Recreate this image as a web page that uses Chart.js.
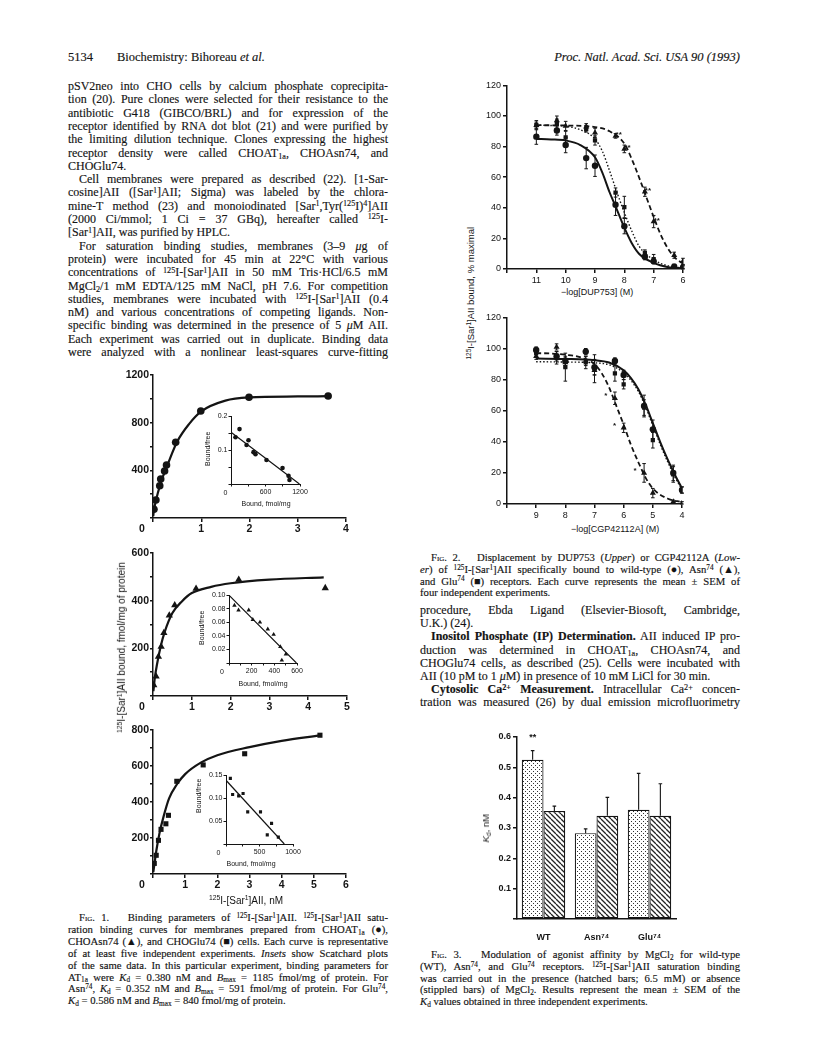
<!DOCTYPE html>
<html>
<head>
<meta charset="utf-8">
<title>Biochemistry: Bihoreau et al. 5134</title>
<script src="https://cdn.jsdelivr.net/npm/chart.js@4.4.1/dist/chart.umd.min.js"></script>
<style>
  html, body { margin: 0; padding: 0; background: #fff; }
  body { position: relative; width: 816px; height: 1055px; overflow: hidden; color: #141414;
         font-family: "Liberation Serif", "Times New Roman", serif; }
  .ln { position: absolute; white-space: nowrap; -webkit-text-stroke: 0.15px #141414; }
  .body { font-size: 12px; line-height: 14px; }
  .cap { font-size: 10.7px; line-height: 12px; }
  .head { position: absolute; font-size: 12.5px; line-height: 14px; white-space: nowrap; -webkit-text-stroke: 0.15px #141414; }
  sup, sub { font-size: 68%; line-height: 0; position: relative; vertical-align: baseline; }
  sup { top: -0.45em; }
  sub { top: 0.25em; }
  .sc { font-variant: small-caps; }
  canvas { position: absolute; }
  .lab { position: absolute; font-family: "Liberation Sans", Arial, sans-serif; white-space: nowrap; line-height: 1.1; }
</style>
</head>
<body>
<script>
// ---------- Fig. 1: saturation binding ----------
const at1aX = [0.02, 0.06, 0.14, 0.16, 0.24, 0.28, 0.47, 0.99, 1.99, 3.63];
const at1aY = [73, 151, 271, 327, 394, 445, 635, 898, 1013, 1024];
const at1aFitX = [0.005, 0.02, 0.05, 0.1, 0.2, 0.3, 0.5, 0.75, 1, 1.5, 2, 3, 3.63];
const at1aFitY = [15, 70, 125, 210, 340, 445, 640, 790, 895, 985, 1012, 1020, 1022];

const asnX = [0.02, 0.08, 0.14, 0.21, 0.28, 0.42, 0.56, 1.11, 2.21, 4.44];
const asnY = [46, 82, 165, 207, 265, 338, 381, 450, 488, 453];
const asnFitX = [0.01, 0.05, 0.1, 0.2, 0.3, 0.5, 0.75, 1, 1.5, 2, 3, 4.4];
const asnFitY = [20, 80, 130, 210, 268, 348, 398, 432, 458, 473, 488, 498];

const gluX = [0.04, 0.10, 0.17, 0.25, 0.40, 0.48, 0.74, 1.56, 2.85, 5.19];
const gluY = [59, 104, 187, 248, 279, 326, 515, 606, 668, 771];
const gluFitX = [0.01, 0.1, 0.2, 0.33, 0.5, 0.75, 1, 1.5, 2, 3, 4, 5.2];
const gluFitY = [10, 125, 225, 320, 420, 500, 555, 620, 660, 705, 740, 770];

// Scatchard insets (bound fmol/mg vs bound/free)
const at1aSbX = [78, 148, 304, 270, 391, 426, 617, 896, 1000, 1017];
const at1aSbY = [0.138, 0.162, 0.129, 0.115, 0.094, 0.088, 0.071, 0.047, 0.024, 0.012];
const at1aSbLineX = [0, 1190];
const at1aSbLineY = [0.153, 0];

const asnSbX = [48, 84, 174, 210, 273, 342, 394, 453, 466, 502];
const asnSbY = [0.085, 0.078, 0.078, 0.064, 0.060, 0.050, 0.042, 0.024, 0.004, 0.013];
const asnSbLineX = [0, 595];
const asnSbLineY = [0.10, 0];

const gluSbX = [65, 99, 189, 255, 324, 515, 680, 616, 781];
const gluSbY = [0.143, 0.108, 0.105, 0.110, 0.070, 0.070, 0.045, 0.020, 0.015];
const gluSbLineX = [0, 870];
const gluSbLineY = [0.139, 0];

// ---------- Fig. 2: displacement ----------
const upX = [11, 10.3, 10, 9.3, 9, 8.3, 8, 7.3, 7, 6.3, 6];
const upWt = [86.5, 90.5, 81, 72.5, 67.5, 42, 28, 8, 5, 1.5, 1];
const upWtErr = [5, 3, 5, 7, 7, 7, 5, 2, 1.5, 1, 1];
const upAsn = [94, 97, 93.5, 93, 89, 87, 78.5, 50.5, 31, 9, 5];
const upAsnErr = [2, 3, 3, 2, 3, 1.5, 2.5, 3, 4, 2, 2];
const upGlu = [94, 95, 86, 91.5, 84, 50, 40.5, 10.5, 6.5, 2, 1.5];
const upGluErr = [3, 3, 4, 2, 3, 3, 7, 2, 3, 1, 1];
const upAsnStars = ['', '', '', '', '', '**', '**', '**', '**', '', ''];
const upWtFitX = [11, 10.5, 10, 9.5, 9, 8.75, 8.5, 8.3, 8, 7.75, 7.5, 7, 6.5, 6];
const upWtFitY = [85, 84.7, 84, 81, 73, 63, 50, 41, 27, 17, 10, 4, 1.2, 0.4];
const upGluFitX = [11, 10.5, 10, 9.5, 9, 8.75, 8.5, 8.25, 8, 7.75, 7.5, 7, 6.5, 6];
const upGluFitY = [94, 93.8, 93.3, 91, 85, 77, 64, 50, 37, 25, 15, 6, 2, 0.6];
const upAsnFitX = [11, 10, 9, 8.5, 8, 7.75, 7.5, 7.25, 7, 6.75, 6.5, 6.25, 6];
const upAsnFitY = [94, 93.8, 92.8, 90, 82, 72, 60, 47, 34, 22, 13, 7, 3.5];

const loX = [9, 8.3, 8, 7.3, 7, 6.3, 6, 5.3, 5, 4.3, 4];
const loWt = [99, 95, 92, 98, 88, 92, 83, 63, 48, 20, 9];
const loWtErr = [2, 3, 3, 2, 5, 2, 3, 7, 6, 5, 2];
const loGlu = [97, 94, 88, 91, 87, 84, 77, 62, 41, 19, 9];
const loGluErr = [2, 4, 9, 4, 9, 5, 3, 5, 5, 5, 2];
const loAsn = [95, 101, 91, 92, 86, 68, 49, 20, 7, 1.5, 0.5];
const loAsnErr = [2, 2, 3, 3, 3, 4, 3, 6, 3, 1, 1];
const loAsnStars = ['', '', '', '', '', '*', '*', '*', '', '', ''];
const loFitX = [9, 8, 7, 6.5, 6, 5.75, 5.5, 5.25, 5, 4.75, 4.5, 4.25, 4];
const loWtFitY = [93.5, 93.3, 92.5, 91, 86, 81, 74, 64, 52, 40, 29, 19, 10];
const loGluFitY = [91.5, 91.3, 90.8, 89.5, 84.5, 79.5, 72.5, 62.5, 50.5, 38.5, 27.5, 17.5, 9.5];
const loAsnFitX = [9, 8.5, 8, 7.5, 7, 6.75, 6.5, 6.25, 6, 5.75, 5.5, 5.25, 5, 4.5, 4];
const loAsnFitY = [97, 96.8, 96, 94.5, 90, 84, 75, 63, 51, 38, 27, 17, 10, 3.5, 1.2];

// ---------- Fig. 3: Kd with / without MgCl2 ----------
const kdGroups = ['WT', 'Asn\u2077\u2074', 'Glu\u2077\u2074'];
const kdNoMg = [0.525, 0.283, 0.36];
const kdNoMgErr = [0.03, 0.014, 0.12];
const kdMg = [0.356, 0.34, 0.34];
const kdMgErr = [0.016, 0.061, 0.106];
const kdStars = ['**', '', ''];

// ---------- page text ----------
const T125 = '<sup>125</sup>I-[Sar<sup>1</sup>]AII';
const FIG = n => 'F<span class="sc">ig</span>. ' + n + '.&nbsp;&nbsp; ';

const leftText = [
  'pSV2neo into CHO cells by calcium phosphate coprecipita-',
  'tion (20). Pure clones were selected for their resistance to the',
  'antibiotic G418 (GIBCO/BRL) and for expression of the',
  'receptor identified by RNA dot blot (21) and were purified by',
  'the limiting dilution technique. Clones expressing the highest',
  'receptor density were called CHOAT<sub>1a</sub>, CHOAsn74, and',
  'CHOGlu74.|',
  '>Cell membranes were prepared as described (22). [1-Sar-',
  'cosine]AII ([Sar<sup>1</sup>]AII; Sigma) was labeled by the chlora-',
  'mine-T method (23) and monoiodinated [Sar<sup>1</sup>,Tyr(<sup>125</sup>I)<sup>4</sup>]AII',
  '(2000 Ci/mmol; 1 Ci = 37 GBq), hereafter called <sup>125</sup>I-',
  '[Sar<sup>1</sup>]AII, was purified by HPLC.|',
  '>For saturation binding studies, membranes (3\u20139 <i>\u03bc</i>g of',
  'protein) were incubated for 45 min at 22\u00b0C with various',
  'concentrations of ' + T125 + ' in 50 mM Tris\u00b7HCl/6.5 mM',
  'MgCl<sub>2</sub>/1 mM EDTA/125 mM NaCl, pH 7.6. For competition',
  'studies, membranes were incubated with ' + T125 + ' (0.4',
  'nM) and various concentrations of competing ligands. Non-',
  'specific binding was determined in the presence of 5 <i>\u03bc</i>M AII.',
  'Each experiment was carried out in duplicate. Binding data',
  'were analyzed with a nonlinear least-squares curve-fitting'
];
const fig1Caption = [
  '>' + FIG(1) + 'Binding parameters of ' + T125 + '. ' + T125 + ' satu-',
  'ration binding curves for membranes prepared from CHOAT<sub>1a</sub> (\u25cf),',
  'CHOAsn74 (\u25b2), and CHOGlu74 (\u25a0) cells. Each curve is representative',
  'of at least five independent experiments. <i>Insets</i> show Scatchard plots',
  'of the same data. In this particular experiment, binding parameters for',
  'AT<sub>1a</sub> were <i>K</i><sub>d</sub> = 0.380 nM and <i>B</i><sub>max</sub> = 1185 fmol/mg of protein. For',
  'Asn<sup>74</sup>, <i>K</i><sub>d</sub> = 0.352 nM and <i>B</i><sub>max</sub> = 591 fmol/mg of protein. For Glu<sup>74</sup>,',
  '<i>K</i><sub>d</sub> = 0.586 nM and <i>B</i><sub>max</sub> = 840 fmol/mg of protein.|'
];
const fig2Caption = [
  '>' + FIG(2) + 'Displacement by DUP753 (<i>Upper</i>) or CGP42112A (<i>Low-</i>',
  '<i>er</i>) of ' + T125 + ' specifically bound to wild-type (\u25cf), Asn<sup>74</sup> (\u25b2),',
  'and Glu<sup>74</sup> (\u25a0) receptors. Each curve represents the mean \u00b1 SEM of',
  'four independent experiments.|'
];
const rightText = [
  'procedure, Ebda Ligand (Elsevier-Biosoft, Cambridge,',
  'U.K.) (24).|',
  '><b>Inositol Phosphate (IP) Determination.</b> AII induced IP pro-',
  'duction was determined in CHOAT<sub>1a</sub>, CHOAsn74, and',
  'CHOGlu74 cells, as described (25). Cells were incubated with',
  'AII (10 pM to 1 <i>\u03bc</i>M) in presence of 10 mM LiCl for 30 min.|',
  '><b>Cytosolic Ca<sup>2+</sup> Measurement.</b> Intracellular Ca<sup>2+</sup> concen-',
  'tration was measured (26) by dual emission microfluorimetry'
];
const fig3Caption = [
  '>' + FIG(3) + 'Modulation of agonist affinity by MgCl<sub>2</sub> for wild-type',
  '(WT), Asn<sup>74</sup>, and Glu<sup>74</sup> receptors. ' + T125 + ' saturation binding',
  'was carried out in the presence (hatched bars; 6.5 mM) or absence',
  '(stippled bars) of MgCl<sub>2</sub>. Results represent the mean \u00b1 SEM of the',
  '<i>K</i><sub>d</sub> values obtained in three independent experiments.|'
];

// ---------- text layout ----------
function justify(div, w, last) {
  const sp = div.firstChild;
  const nat = sp.getBoundingClientRect().width;
  const gaps = (sp.textContent.match(/[ \u00a0]/g) || []).length;
  if (!gaps || (last && nat <= w)) return;
  sp.style.wordSpacing = ((w - nat) / gaps) + 'px';
}

function textBlock(x, y0, dy, w, cls, lines) {
  const half = cls === 'body' ? 7 : 6;
  lines.forEach((raw, i) => {
    let t = raw, ind = 0, last = false;
    if (t.startsWith('>')) { t = t.slice(1); ind = 11; }
    if (t.endsWith('|')) { t = t.slice(0, -1); last = true; }
    const d = document.createElement('div');
    d.className = 'ln ' + cls;
    d.style.left = (x + ind) + 'px';
    d.style.top = (y0 + i * dy - half) + 'px';
    d.innerHTML = '<span>' + t + '</span>';
    document.body.appendChild(d);
    justify(d, w - ind, last);
  });
}

function head(html, left, right, top) {
  const d = document.createElement('div');
  d.className = 'head';
  d.innerHTML = html;
  if (left != null) d.style.left = left + 'px';
  if (right != null) d.style.right = right + 'px';
  d.style.top = top + 'px';
  document.body.appendChild(d);
}

function label(html, cx, cy, size, rot, weight) {
  const d = document.createElement('div');
  d.className = 'lab';
  d.innerHTML = html;
  d.style.fontSize = size + 'px';
  if (weight) d.style.fontWeight = weight;
  document.body.appendChild(d);
  const w = d.offsetWidth, h = d.offsetHeight;
  d.style.left = (cx - w / 2) + 'px';
  d.style.top = (cy - h / 2) + 'px';
  if (rot) d.style.transform = 'rotate(-90deg)';
}

head('5134', 68, null, 50);
head('Biochemistry: Bihoreau <i>et al.</i>', 117, null, 50);
head('<i>Proc. Natl. Acad. Sci. USA 90 (1993)</i>', null, 76, 50);

textBlock(68, 86, 13.3, 320, 'body', leftText);
textBlock(68, 917, 11.9, 320, 'cap', fig1Caption);
textBlock(420, 557, 11.8, 320, 'cap', fig2Caption);
textBlock(420, 610, 13.2, 320, 'body', rightText);
textBlock(420, 954, 11.8, 320, 'cap', fig3Caption);

// ---------- chart helpers ----------
const SANS = '"Liberation Sans", Arial, Helvetica, sans-serif';
const INK = '#141414';
const near = (v, s) => Math.abs(v / s - Math.round(v / s)) < 1e-6;
const pts = (xs, ys) => xs.map((x, i) => ({ x, y: ys[i] }));

function marks(xs, ys, style, r, extra) {
  return Object.assign({
    data: pts(xs, ys), showLine: false, pointStyle: style, pointRadius: r,
    pointBackgroundColor: INK, pointBorderColor: INK, pointBorderWidth: 0
  }, extra || {});
}
function curve(xs, ys, w, dash) {
  return {
    data: pts(xs, ys), showLine: true, pointRadius: 0, borderColor: INK, borderWidth: w,
    borderDash: dash || [], cubicInterpolationMode: 'monotone', fill: false
  };
}

function linear(o) {
  return {
    type: 'linear', min: o.min, max: o.max, reverse: !!o.reverse,
    ticks: {
      stepSize: o.step, autoSkip: false, maxRotation: 0, color: INK, padding: o.pad,
      font: { family: SANS, size: o.size, weight: o.weight || 'normal' },
      callback: o.fmt
    },
    grid: { display: true, drawOnChartArea: false, drawTicks: true, tickLength: o.tick, lineWidth: o.lw, color: INK },
    border: { display: true, color: INK, width: o.lw },
    afterFit: s => { if (s.isHorizontal()) s.height = o.room; else s.width = o.room; }
  };
}

function canvasFor(box, yRoom, xRoom, padT, padR) {
  const c = document.createElement('canvas');
  const w = Math.round(box.R - box.L) + yRoom + padR;
  const h = Math.round(box.B - box.T) + padT + xRoom;
  c.width = w; c.height = h;
  c.style.width = w + 'px'; c.style.height = h + 'px';
  c.style.left = Math.round(box.L - yRoom) + 'px';
  c.style.top = Math.round(box.T - padT) + 'px';
  document.body.appendChild(c);
  return c;
}

const errorBars = {
  id: 'errorBars',
  beforeDatasetDraw(chart, args) {
    const ds = chart.data.datasets[args.index];
    if (!ds.errors) return;
    const ctx = chart.ctx, ys = chart.scales.y;
    ctx.save();
    ctx.strokeStyle = INK;
    ctx.lineWidth = ds.errWidth || 1;
    args.meta.data.forEach((el, i) => {
      const e = ds.errors[i];
      if (!e) return;
      const raw = ds.data[i];
      const v = typeof raw === 'object' ? raw.y : raw;
      const yTop = ys.getPixelForValue(v + e);
      const yBot = ds.errUpOnly ? el.y : ys.getPixelForValue(Math.max(v - e, ys.min));
      const cap = ds.errCap || 1.8;
      ctx.beginPath();
      ctx.moveTo(el.x, yBot); ctx.lineTo(el.x, yTop);
      ctx.moveTo(el.x - cap, yTop); ctx.lineTo(el.x + cap, yTop);
      if (!ds.errUpOnly) { ctx.moveTo(el.x - cap, yBot); ctx.lineTo(el.x + cap, yBot); }
      ctx.stroke();
    });
    ctx.restore();
  }
};

const cornerZero = {
  id: 'cornerZero',
  afterDraw(chart, args, o) {
    const a = chart.chartArea, ctx = chart.ctx;
    ctx.save();
    ctx.fillStyle = INK;
    ctx.font = (o.weight || 'normal') + ' ' + o.size + 'px ' + SANS;
    ctx.textAlign = 'center';
    ctx.textBaseline = 'middle';
    ctx.fillText('0', a.left + o.dx, a.bottom + o.dy);
    ctx.restore();
  }
};

const starMarks = {
  id: 'stars',
  afterDatasetsDraw(chart, args, o) {
    const ctx = chart.ctx;
    chart.data.datasets.forEach((ds, di) => {
      if (!ds.stars) return;
      const meta = chart.getDatasetMeta(di);
      ctx.save();
      ctx.fillStyle = INK;
      ctx.font = 'bold ' + o.size + 'px ' + SANS;
      ctx.textAlign = o.align || 'center';
      ctx.textBaseline = 'middle';
      meta.data.forEach((el, i) => { const s = ds.stars[i]; if (s) ctx.fillText(s, el.x + o.dx, el.y + o.dy); });
      ctx.restore();
    });
  }
};

function scatter(box, cfg) {
  const c = canvasFor(box, cfg.yRoom, cfg.xRoom, cfg.padT, cfg.padR);
  return new Chart(c, {
    type: 'scatter',
    data: { datasets: cfg.datasets },
    options: {
      responsive: false, animation: false, events: [],
      layout: { padding: { top: cfg.padT, right: cfg.padR, left: 0, bottom: 0 } },
      plugins: {
        legend: { display: false }, tooltip: { enabled: false },
        cornerZero: cfg.zero || false, stars: cfg.stars || false
      },
      scales: { x: cfg.x, y: cfg.y }
    },
    plugins: [errorBars, cornerZero, starMarks]
  });
}

// ---------- Fig. 1 main panels ----------
function mainPanel(box, xmax, ymax, ystep, ylab, zdy, datasets) {
  scatter(box, {
    yRoom: 28, xRoom: 20, padT: 8, padR: 10,
    x: linear({ min: 0, max: xmax, step: 1, size: 10.5, weight: 'bold', pad: 1, tick: 4, lw: 1.5, room: 20,
      fmt: v => v === 0 ? '' : String(v) }),
    y: linear({ min: 0, max: ymax, step: ystep, size: 10.5, weight: 'bold', pad: 1, tick: 3, lw: 1.5, room: 28,
      fmt: v => v === 0 ? '' : (near(v, ylab) ? String(v) : '') }),
    zero: { dx: -11, dy: zdy, size: 10.5, weight: 'bold' },
    datasets
  });
}
mainPanel({ L: 153, R: 346, T: 374.5, B: 517 }, 4, 1200, 200, 400, 11,
  [curve(at1aFitX, at1aFitY, 2.2), marks(at1aX, at1aY, 'circle', 3.8)]);
mainPanel({ L: 153, R: 347, T: 553, B: 696 }, 5, 600, 100, 200, 11,
  [curve(asnFitX, asnFitY, 2.2), marks(asnX, asnY, 'triangle', 4.2)]);
mainPanel({ L: 153, R: 346, T: 730, B: 873.5 }, 6, 800, 100, 200, 11,
  [curve(gluFitX, gluFitY, 2.2), marks(gluX, gluY, 'rect', 3.6)]);

// ---------- Fig. 1 insets ----------
function inset(box, xmax, xstep, xlab, ymax, ystep, ylab, ydig, zdx, datasets) {
  scatter(box, {
    yRoom: 19, xRoom: 12, padT: 5, padR: 9,
    x: linear({ min: 0, max: xmax, step: xstep, size: 7, pad: 1, tick: 2.5, lw: 1, room: 12,
      fmt: v => v === 0 ? '' : (near(v, xlab) ? String(Math.round(v)) : '') }),
    y: linear({ min: 0, max: ymax, step: ystep, size: 7, pad: 1, tick: 2.5, lw: 1, room: 19,
      fmt: v => v < 1e-9 ? '' : (near(v, ylab) ? v.toFixed(ydig) : '') }),
    zero: { dx: zdx, dy: 9, size: 7 },
    datasets
  });
}
inset({ L: 230.5, R: 299, T: 416, B: 484 }, 1200, 300, 600, 0.2, 0.05, 0.1, 1, -5.5,
  [curve(at1aSbLineX, at1aSbLineY, 1.2), marks(at1aSbX, at1aSbY, 'circle', 2.3)]);
inset({ L: 229, R: 296.5, T: 595, B: 663 }, 600, 100, 200, 0.10, 0.02, 0.02, 2, -7,
  [curve(asnSbLineX, asnSbLineY, 1.2), marks(asnSbX, asnSbY, 'triangle', 2.6)]);
inset({ L: 225.7, R: 292.3, T: 775, B: 844 }, 1000, 250, 500, 0.15, 0.05, 0.05, 2, -7.5,
  [curve(gluSbLineX, gluSbLineY, 1.2), marks(gluSbX, gluSbY, 'rect', 2.2)]);

label('Bound/free', 208, 449, 7, true);
label('Bound, fmol/mg', 266, 504, 7);
label('Bound/free', 202, 628, 7, true);
label('Bound, fmol/mg', 263, 684, 7);
label('Bound/free', 199, 796, 7, true);
label('Bound, fmol/mg', 251, 864, 7);

label('<sup>125</sup>I-[Sar<sup>1</sup>]AII bound, fmol/mg of protein', 121, 647, 10, true);
label('<sup>125</sup>I-[Sar<sup>1</sup>]AII, nM', 246, 900, 10);

// ---------- Fig. 2 ----------
function dispPanel(box, xmin, xmax, stars, datasets) {
  return scatter(box, {
    yRoom: 26, xRoom: 16, padT: 7, padR: 10,
    x: linear({ min: xmin, max: xmax, reverse: true, step: 1, size: 9, pad: 2, tick: 4, lw: 1.5, room: 16,
      fmt: v => v === xmax ? '' : String(v) }),
    y: linear({ min: 0, max: 120, step: 20, size: 9, pad: 2, tick: 4, lw: 1.5, room: 26,
      fmt: v => String(v) }),
    stars,
    datasets
  });
}
const eb = (errors, extra) => Object.assign({ errors, errWidth: 1, errCap: 1.8 }, extra || {});

dispPanel({ L: 507.4, R: 683, T: 85, B: 269 }, 6, 12, { dx: 0, dy: -1, size: 8, align: 'left' }, [
  curve(upWtFitX, upWtFitY, 2),
  curve(upGluFitX, upGluFitY, 1.4, [1.5, 2]),
  curve(upAsnFitX, upAsnFitY, 1.8, [5, 3]),
  marks(upX, upGlu, 'rect', 3, eb(upGluErr)),
  marks(upX, upAsn, 'triangle', 3.5, eb(upAsnErr, { stars: upAsnStars })),
  marks(upX, upWt, 'circle', 3.2, eb(upWtErr))
]);
dispPanel({ L: 506.5, R: 681.7, T: 317, B: 504 }, 4, 10, { dx: -9, dy: -2, size: 8, align: 'center' }, [
  curve(loFitX, loWtFitY, 2),
  curve(loFitX, loGluFitY, 1.4, [1.5, 2]),
  curve(loAsnFitX, loAsnFitY, 1.8, [5, 3]),
  marks(loX, loGlu, 'rect', 3, eb(loGluErr)),
  marks(loX, loAsn, 'triangle', 3.5, eb(loAsnErr, { stars: loAsnStars })),
  marks(loX, loWt, 'circle', 3.2, eb(loWtErr))
]);

label('<sup>125</sup>I-[Sar<sup>1</sup>]AII bound, % maximal', 471, 293, 9.5, true);
label('\u2212log[DUP753] (M)', 597, 293, 9);
label('\u2212log[CGP42112A] (M)', 615, 530, 9);

// ---------- Fig. 3 ----------
function stipple() {
  const c = document.createElement('canvas');
  c.width = 4; c.height = 4;
  const g = c.getContext('2d');
  g.fillStyle = '#fff'; g.fillRect(0, 0, 4, 4);
  g.fillStyle = '#333';
  g.fillRect(0, 0, 1, 1); g.fillRect(2, 2, 1, 1);
  return g.createPattern(c, 'repeat');
}
function hatch() {
  const s = 5;
  const c = document.createElement('canvas');
  c.width = s; c.height = s;
  const g = c.getContext('2d');
  g.fillStyle = '#fff'; g.fillRect(0, 0, s, s);
  g.strokeStyle = '#222'; g.lineWidth = 1.3;
  g.beginPath();
  for (const k of [-s, 0, s]) { g.moveTo(k, 0); g.lineTo(k + s, s); }
  g.stroke();
  return g.createPattern(c, 'repeat');
}

(function () {
  const box = { L: 517, R: 676, T: 737, B: 919 };
  const c = canvasFor(box, 26, 26, 8, 6);
  const barStyle = { borderColor: INK, borderWidth: 1.2, borderSkipped: false, categoryPercentage: 0.82, barPercentage: 1,
    errUpOnly: true, errWidth: 1.1, errCap: 1.8 };
  new Chart(c, {
    type: 'bar',
    data: {
      labels: kdGroups,
      datasets: [
        Object.assign({ label: 'no MgCl2', data: kdNoMg, errors: kdNoMgErr, stars: kdStars, backgroundColor: stipple() }, barStyle),
        Object.assign({ label: '6.5 mM MgCl2', data: kdMg, errors: kdMgErr, backgroundColor: hatch() }, barStyle)
      ]
    },
    options: {
      responsive: false, animation: false, events: [],
      layout: { padding: { top: 8, right: 6, left: 0, bottom: 0 } },
      plugins: { legend: { display: false }, tooltip: { enabled: false }, stars: { dx: 0, dy: -22, size: 9 } },
      scales: {
        x: {
          type: 'category', grid: { display: false }, border: { display: true, color: INK, width: 1.5 },
          ticks: { color: INK, padding: 5, font: { family: SANS, size: 9, weight: 'bold' } },
          afterFit: s => { s.height = 26; }
        },
        y: linear({ min: 0, max: 0.6, step: 0.1, size: 9, weight: 'bold', pad: 2, tick: 4, lw: 1.5, room: 26,
          fmt: v => v < 1e-9 ? '' : v.toFixed(1) })
      }
    },
    plugins: [errorBars, starMarks]
  });
})();
label('<i>K</i><sub>d</sub>, nM', 486, 828, 9.5, true);
</script>
</body>
</html>
